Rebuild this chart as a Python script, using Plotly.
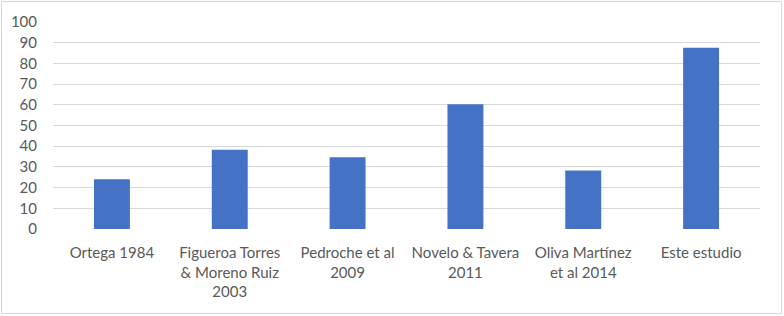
import plotly.graph_objects as go

categories = ["Ortega 1984", "Figueroa Torres<br>& Moreno Ruiz<br>2003", "Pedroche et al<br>2009",
              "Novelo & Tavera<br>2011", "Oliva Martínez<br>et al 2014", "Este estudio"]
values = [24, 38.3, 34.7, 60.3, 28.3, 87.6]
y_ticks = list(range(0, 101, 10))

W, H = 784, 316
ml, mr, mt, mb = 53, 24, 22, 87
pw, ph = W - ml - mr, H - mt - mb

fig = go.Figure(go.Bar(x=categories, y=values, marker=dict(color="#4472C4", line=dict(width=0)), width=0.305))

font = dict(family="Lato, Liberation Sans, sans-serif", size=15, color="#595959")
fig.update_layout(
    width=W, height=H, margin=dict(l=ml, r=mr, t=mt, b=mb, autoexpand=False),
    paper_bgcolor="white", plot_bgcolor="white", font=font, showlegend=False,
    xaxis=dict(showgrid=False, showline=False, ticks="outside", ticklen=10, tickcolor="rgba(0,0,0,0)",
               tickfont=font, zeroline=False, fixedrange=True, automargin=False),
    yaxis=dict(range=[0, 100], tickvals=y_ticks, showgrid=True, gridcolor="#d9d9d9", gridwidth=1,
               zeroline=False, showline=False, ticks="outside", ticklen=12, tickcolor="rgba(0,0,0,0)",
               tickfont=font, automargin=False, fixedrange=True),
    shapes=[dict(type="rect", xref="paper", yref="paper",
                 x0=-(ml - 1.5) / pw, x1=1 + (mr - 2.5) / pw,
                 y0=-(mb - 2.5) / ph, y1=1 + (mt - 1.5) / ph,
                 line=dict(color="#d9d9d9", width=1), layer="below")],
)
fig.write_html("out.html", config={"displayModeBar": False},
               post_script="document.body.style.margin='0';document.body.style.padding='0';")
